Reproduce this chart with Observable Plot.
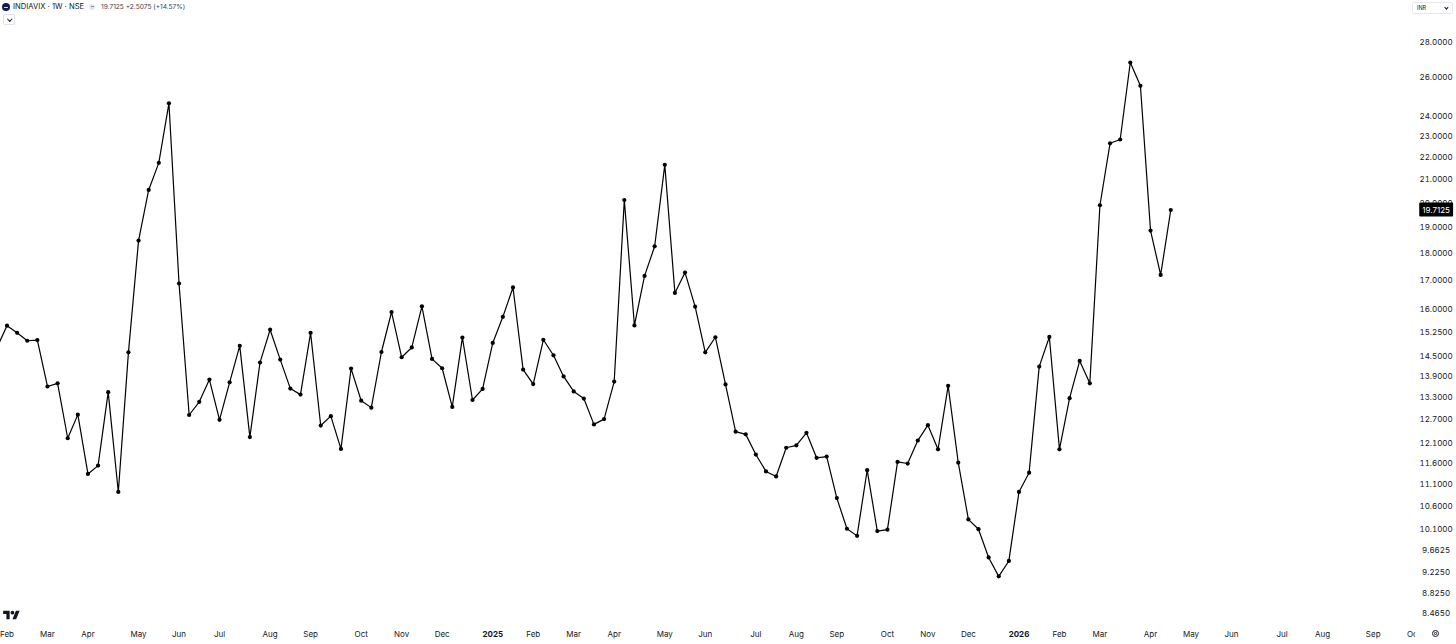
<!DOCTYPE html>
<html>
<head>
<meta charset="utf-8">
<script src="https://cdn.jsdelivr.net/npm/d3@7"></script>
<script src="https://cdn.jsdelivr.net/npm/@observablehq/plot@0.6"></script>
<style>
  html, body { margin: 0; padding: 0; background: #fff; }
  #wrap { position: relative; width: 1456px; height: 644px; overflow: hidden; font-family: Inter, "Noto Sans", sans-serif; color: #131722; }
  #chart svg { display: block; }
  .abs { position: absolute; white-space: nowrap; }
  .logo { left: 2px; top: 3px; width: 8px; height: 8px; border-radius: 50%; background: #131c4e; }
  .logo::after { content: ""; position: absolute; left: 2px; top: 3.5px; width: 4px; height: 1px; background: #cfd6ff; }
  .title { left: 13px; top: 1.5px; font-size: 7.6px; line-height: 10px; color: #131722; }
  .mini { left: 89px; top: 3.5px; width: 6px; height: 6px; border-radius: 50%; background: #e3e5ea; }
  .mini::after { content: ""; position: absolute; left: 1.5px; top: 2.5px; width: 3px; height: 1px; background: #888; }
  .vals { left: 101px; top: 2.5px; font-size: 6.6px; line-height: 9px; color: #3a3e48; }
  .dd { left: 3px; top: 14px; width: 10px; height: 9px; border: 1px solid #e0e3eb; border-radius: 2px; }
  .chev { position: absolute; width: 2.5px; height: 2.5px; border-right: 1px solid #131722; border-bottom: 1px solid #131722; transform: rotate(45deg); }
  .inr { left: 1412px; top: 2px; width: 39px; height: 10px; border: 1px solid #e6e8ee; border-radius: 2px; font-size: 5.5px; line-height: 10px; }
  .gear { left: 1432px; top: 630px; width: 7px; height: 7px; border: 1px solid #131722; border-radius: 50%; box-sizing: border-box; }
  .gear::after { content: ""; position: absolute; left: 1.2px; top: 1.2px; width: 2.6px; height: 2.6px; border: 0.8px solid #131722; border-radius: 50%; box-sizing: border-box; }
  .tv { left: 3px; top: 609px; }
</style>
</head>
<body>
<div id="wrap">
  <div id="chart"></div>
  <div class="abs logo"></div>
  <div class="abs title" id="title"></div>
  <div class="abs mini"></div>
  <div class="abs vals" id="vals"></div>
  <div class="abs dd"><div class="chev" style="left:3.5px;top:2px"></div></div>
  <div class="abs inr"><span style="position:absolute;left:4px">INR</span><div class="chev" style="left:32px;top:3px;width:1.8px;height:1.8px"></div></div>
  <div class="abs gear"></div>
  <svg class="abs tv" width="17" height="13" viewBox="0 0 36 28"><path fill="#131722" d="M14 22H7V11H0V4h14v18zM28 22h-8l7.5-18h8L28 22z"/><circle fill="#131722" cx="20" cy="8" r="4"/></svg>
</div>
<script>
// ---- data ----
const symbolTitle = "INDIAVIX · 1W · NSE";
const lastValueText = "19.7125";
const changeText = "+2.5075 (+14.57%)";
const firstWeek = "2024-01-29";        // weekly bars, one per Monday
const vix = [
  14.77,
  15.47, 15.24, 14.99, 15.01, 13.62, 13.71, 12.22, 12.84, 11.34, 11.54,
  13.46, 10.92, 14.63, 18.49, 20.56, 21.76, 24.65, 16.90, 12.83, 13.19,
  13.82, 12.70, 13.74, 14.83, 12.25, 14.32, 15.34, 14.41, 13.56, 13.39,
  15.24, 12.55, 12.80, 11.95, 14.14, 13.22, 13.03, 14.64, 15.92, 14.48,
  14.78, 16.11, 14.43, 14.15, 13.05, 15.09, 13.24, 13.55, 14.92, 15.76,
  16.76, 14.11, 13.69, 15.02, 14.54, 13.91, 13.48, 13.28, 12.58, 12.72,
  13.76, 20.13, 15.48, 17.17, 18.27, 21.67, 16.57, 17.29, 16.10, 14.63,
  15.10, 13.68, 12.39, 12.32, 11.81, 11.40, 11.28, 11.98, 12.04, 12.36,
  11.73, 11.76, 10.78, 10.11, 9.96, 11.43, 10.06, 10.09, 11.63, 11.59,
  12.16, 12.56, 11.94, 13.64, 11.61, 10.31, 10.10, 9.52, 9.15, 9.45,
  10.92, 11.37, 14.20, 15.11, 11.94, 13.29, 14.37, 13.71, 19.91, 22.67,
  22.85, 26.85, 25.57, 18.88, 17.205, 19.7125
];
const xDomain = ["2024-02-05", "2026-10-06"];
const tickDates = ["2024-02-05","2024-03-04","2024-04-01","2024-05-06","2024-06-03","2024-07-01","2024-08-05","2024-09-02","2024-10-07","2024-11-04","2024-12-02",
  "2025-01-06","2025-02-03","2025-03-03","2025-03-31","2025-05-05","2025-06-02","2025-07-07","2025-08-04","2025-09-01","2025-10-06","2025-11-03","2025-12-01",
  "2026-01-05","2026-02-02","2026-03-02","2026-04-06","2026-05-04","2026-06-01","2026-07-06","2026-08-03","2026-09-07","2026-10-05"];
const tickLabels = ["Feb","Mar","Apr","May","Jun","Jul","Aug","Sep","Oct","Nov","Dec",
  "2025","Feb","Mar","Apr","May","Jun","Jul","Aug","Sep","Oct","Nov","Dec",
  "2026","Feb","Mar","Apr","May","Jun","Jul","Aug","Sep","Oct"];
const priceTicks = [28, 26, 24, 23, 22, 21, 20, 19, 18, 17, 16, 15.25, 14.5, 13.9, 13.3, 12.7, 12.1, 11.6, 11.1, 10.6, 10.1, 9.6625, 9.225, 8.825, 8.465];
const yDomain = [8.465, 28];

// ---- build ----
document.getElementById("title").textContent = symbolTitle;
document.getElementById("vals").textContent = lastValueText + "  " + changeText;

const start = new Date(firstWeek);
const weeks = d3.utcMonday.range(start, d3.utcMonday.offset(start, vix.length));
const data = vix.map((v, i) => ({date: weeks[i], value: v}));
const ticks = tickDates.map((d, i) => ({date: new Date(d), label: tickLabels[i], year: /^\d{4}$/.test(tickLabels[i])}));
const last = data[data.length - 1];
const lastLabel = last.value.toFixed(4);

const chart = Plot.plot({
  width: 1456,
  height: 644,
  marginLeft: 6.5,
  marginRight: 41.4,
  marginTop: 42,
  marginBottom: 31,
  style: {background: "white", color: "#131722", fontFamily: "Inter, 'Noto Sans', sans-serif", fontSize: "8px"},
  x: {type: "utc", domain: xDomain.map(d => new Date(d)), axis: null},
  y: {type: "log", domain: yDomain, axis: null},
  marks: [
    Plot.axisY(priceTicks, {anchor: "right", tickSize: 0, tickPadding: 21, textAnchor: "middle", tickFormat: d => d.toFixed(4), fontSize: 8, fill: "#131722", label: null}),
    Plot.line(data, {x: "date", y: "value", stroke: "#000", strokeWidth: 1.2}),
    Plot.dot(data, {x: "date", y: "value", r: 2.1, fill: "#000", stroke: "none"}),
    Plot.text(ticks.filter(d => !d.year), {x: "date", text: "label", frameAnchor: "bottom", lineAnchor: "middle", dy: 21, fontSize: 8, fill: "#131722"}),
    Plot.text(ticks.filter(d => d.year), {x: "date", text: "label", frameAnchor: "bottom", lineAnchor: "middle", dy: 21, fontSize: 8, fontWeight: "bold", fill: "#131722"}),
    Plot.text([last], {y: "value", text: () => lastLabel, frameAnchor: "right", dx: 21, textAnchor: "middle", lineAnchor: "middle", fontSize: 8, fill: "#fff"})
  ]
});
document.getElementById("chart").append(chart);

// clip the time labels at the right edge of the pane, and give the last-value label its box
const svg = d3.select(chart);
const xr = chart.scale("x").range;
svg.insert("defs", ":first-child").append("clipPath").attr("id", "paneClip")
  .append("rect").attr("x", -50).attr("y", -50).attr("width", xr[1] + 50).attr("height", 744);
const labelSet = new Set(tickLabels);
const parents = new Set();
svg.selectAll("text").each(function() {
  if (labelSet.has(this.textContent)) parents.add(this.parentNode);
});
parents.forEach(p => p.setAttribute("clip-path", "url(#paneClip)"));

svg.selectAll("text").filter(function() { return this.textContent === lastLabel; }).each(function() {
  const bb = this.getBBox();
  const r = d3.select(this.parentNode).insert("rect", () => this)
    .attr("x", bb.x - 3).attr("y", bb.y + bb.height / 2 - 7)
    .attr("width", bb.width + 6).attr("height", 14).attr("fill", "#000").attr("rx", 1);
  const t = this.getAttribute("transform");
  if (t) r.attr("transform", t);
});
</script>
</body>
</html>
